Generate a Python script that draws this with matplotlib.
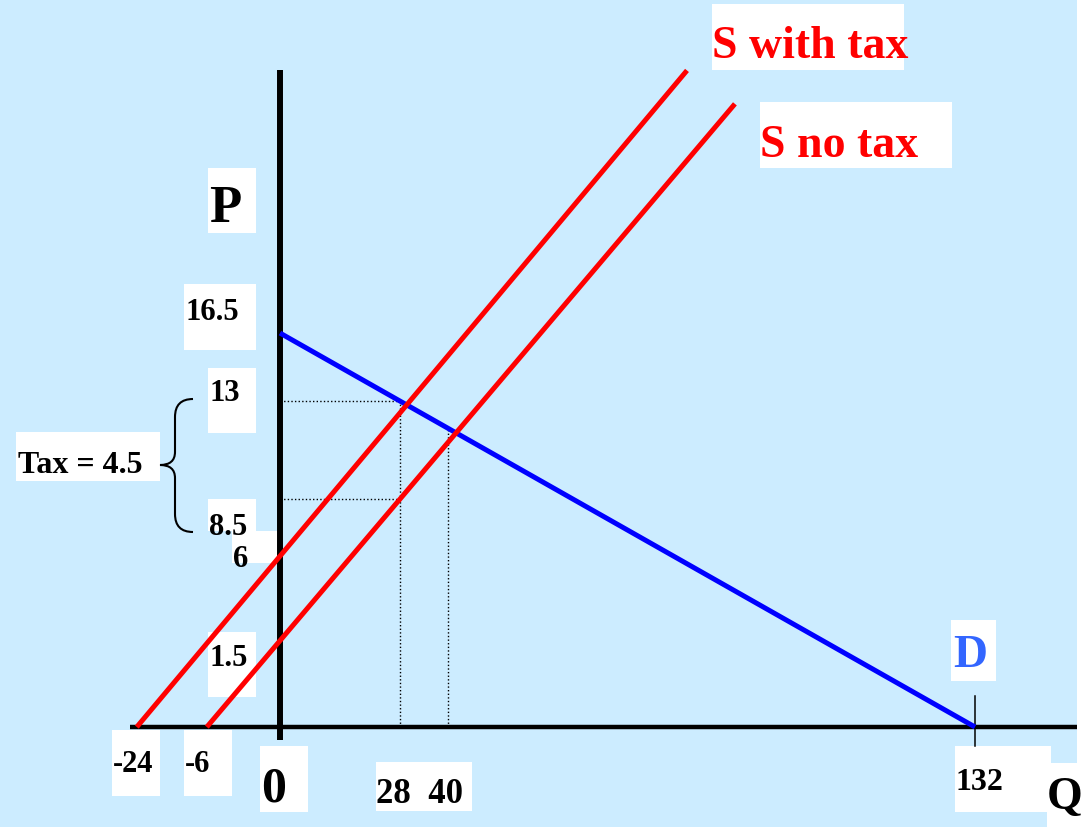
import numpy as np
import matplotlib
matplotlib.use('Agg')
import matplotlib.pyplot as plt
from matplotlib.patches import Rectangle, PathPatch
from matplotlib.path import Path
from matplotlib.transforms import Affine2D

# end points (Q, P) of the lines
demand_q = [0, 132]
demand_p = [16.5, 0]
supply_tax_q = [-27.2, 77.3]
supply_tax_p = [0, 27.5]
supply_notax_q = [-13.9, 86.4]
supply_notax_p = [0, 26.1]

# quantities where the dotted guides drop to the Q axis
guide_q = [22.8, 31.9]

# how far the drawn axes run
q_axis = [-28.5, 151.4]
p_axis = [-0.54, 27.5]
tick_q = 132

W, H = 1089, 827
BG = '#CCECFF'

plt.rcParams['font.family'] = ['Liberation Serif', 'DejaVu Serif']
plt.rcParams['font.weight'] = 'bold'

fig = plt.figure(figsize=(W / 100, H / 100), dpi=100, facecolor='white')
ax = fig.add_axes([0, 0, 1, 1])
ax.set_xlim(-53.18, 153.65)
ax.set_ylim(-4.188, 30.45)
ax.axis('off')

# picture pixels, origin top left, for the label boxes
px = Affine2D().scale(1 / W, -1 / H).translate(0, 1) + fig.transFigure

ax.add_patch(Rectangle((0, 0), 1077, H, transform=px, facecolor=BG,
                       edgecolor='none', zorder=0))
# the slide background stops short of the right edge
ax.add_patch(Rectangle((1077, 0), W - 1077, H, transform=px, facecolor='white',
                       edgecolor='none', zorder=0.5))

# text, left x, baseline y, size, colour, white box, clip to box
labels = [
    ('S with tax', 712, 58, 33, 'red', (712, 4, 904, 70), False),
    ('S no tax', 760, 157, 33, 'red', (760, 102, 952, 168), False),
    ('P', 209, 222, 38, 'black', (208, 168, 256, 233), False),
    ('16.5', 185, 320, 22, 'black', (184, 284, 256, 350), False),
    ('13', 210, 401, 22, 'black', (208, 368, 256, 433), False),
    ('8.5', 209, 535, 22, 'black', (208, 499, 256, 531), True),
    ('6', 233, 567, 22, 'black', (232, 531, 280, 563), True),
    ('1.5', 209, 666, 22, 'black', (208, 632, 256, 697), False),
    ('Tax = 4.5', 18, 473, 23, 'black', (16, 432, 160, 481), False),
    ('-24', 113, 772, 22, 'black', (112, 730, 160, 796), False),
    ('-6', 185, 772, 22, 'black', (184, 730, 232, 796), False),
    ('0', 261, 802, 36, 'black', (260, 746, 308, 812), False),
    ('28  40', 376, 803, 25, 'black', (376, 762, 472, 811), False),
    ('132', 956, 790, 23, 'black', (955, 746, 1051, 812), False),
    ('Q', 1047, 809, 33, 'black', (1047, 763, 1089, 827), False),
    ('D', 953, 667, 34, '#3366FF', (951, 620, 996, 681), False),
]

for text, x, y, size, color, (x0, y0, x1, y1), clip in labels:
    box = Rectangle((x0, y0), x1 - x0, y1 - y0, transform=px,
                    facecolor='white', edgecolor='none', zorder=1)
    ax.add_patch(box)
    t = ax.text(x, y, text, transform=px, fontsize=size, color=color,
                fontweight='bold', ha='left', va='baseline', zorder=1.5)
    if clip:
        t.set_clip_path(box)

# curly brace next to the tax label
brace = Path(
    [(193, 399), (175, 399), (175, 417), (175, 452), (175, 465), (160, 465),
     (175, 465), (175, 478), (175, 514), (175, 532), (193, 532)],
    [Path.MOVETO, Path.CURVE3, Path.CURVE3, Path.LINETO, Path.CURVE3,
     Path.CURVE3, Path.CURVE3, Path.CURVE3, Path.LINETO, Path.CURVE3,
     Path.CURVE3])
ax.add_patch(PathPatch(brace, transform=px, facecolor='none',
                       edgecolor='black', lw=1.5, zorder=2))

# dotted guides from the equilibrium points
dots = dict(color='black', lw=1.0, linestyle=(0, (1, 1.6)), zorder=1.8)
p_buyer = np.interp(guide_q[0], demand_q, demand_p)
p_seller = np.interp(guide_q[0], supply_notax_q, supply_notax_p)
for q in guide_q:
    ax.plot([q, q], [0, np.interp(q, demand_q, demand_p)], **dots)
ax.plot([0, guide_q[0]], [p_buyer, p_buyer], **dots)
ax.plot([0, guide_q[0]], [p_seller, p_seller], **dots)

# axes
ax.plot([0, 0], p_axis, color='black', lw=4.3, solid_capstyle='butt', zorder=2.5)
ax.plot(q_axis, [0, 0], color='black', lw=3.2, solid_capstyle='butt', zorder=2.5)
ax.plot([tick_q, tick_q], [-0.8, 1.3], color='black', lw=1.1, zorder=2.5)

# demand and supply
ax.plot(demand_q, demand_p, color='#0000FF', lw=3.6, solid_capstyle='butt', zorder=3)
ax.plot(supply_tax_q, supply_tax_p, color='#FF0000', lw=3.6,
        solid_capstyle='butt', zorder=3)
ax.plot(supply_notax_q, supply_notax_p, color='#FF0000', lw=3.6,
        solid_capstyle='butt', zorder=3)

fig.savefig('out.png', dpi=100, facecolor='white')
